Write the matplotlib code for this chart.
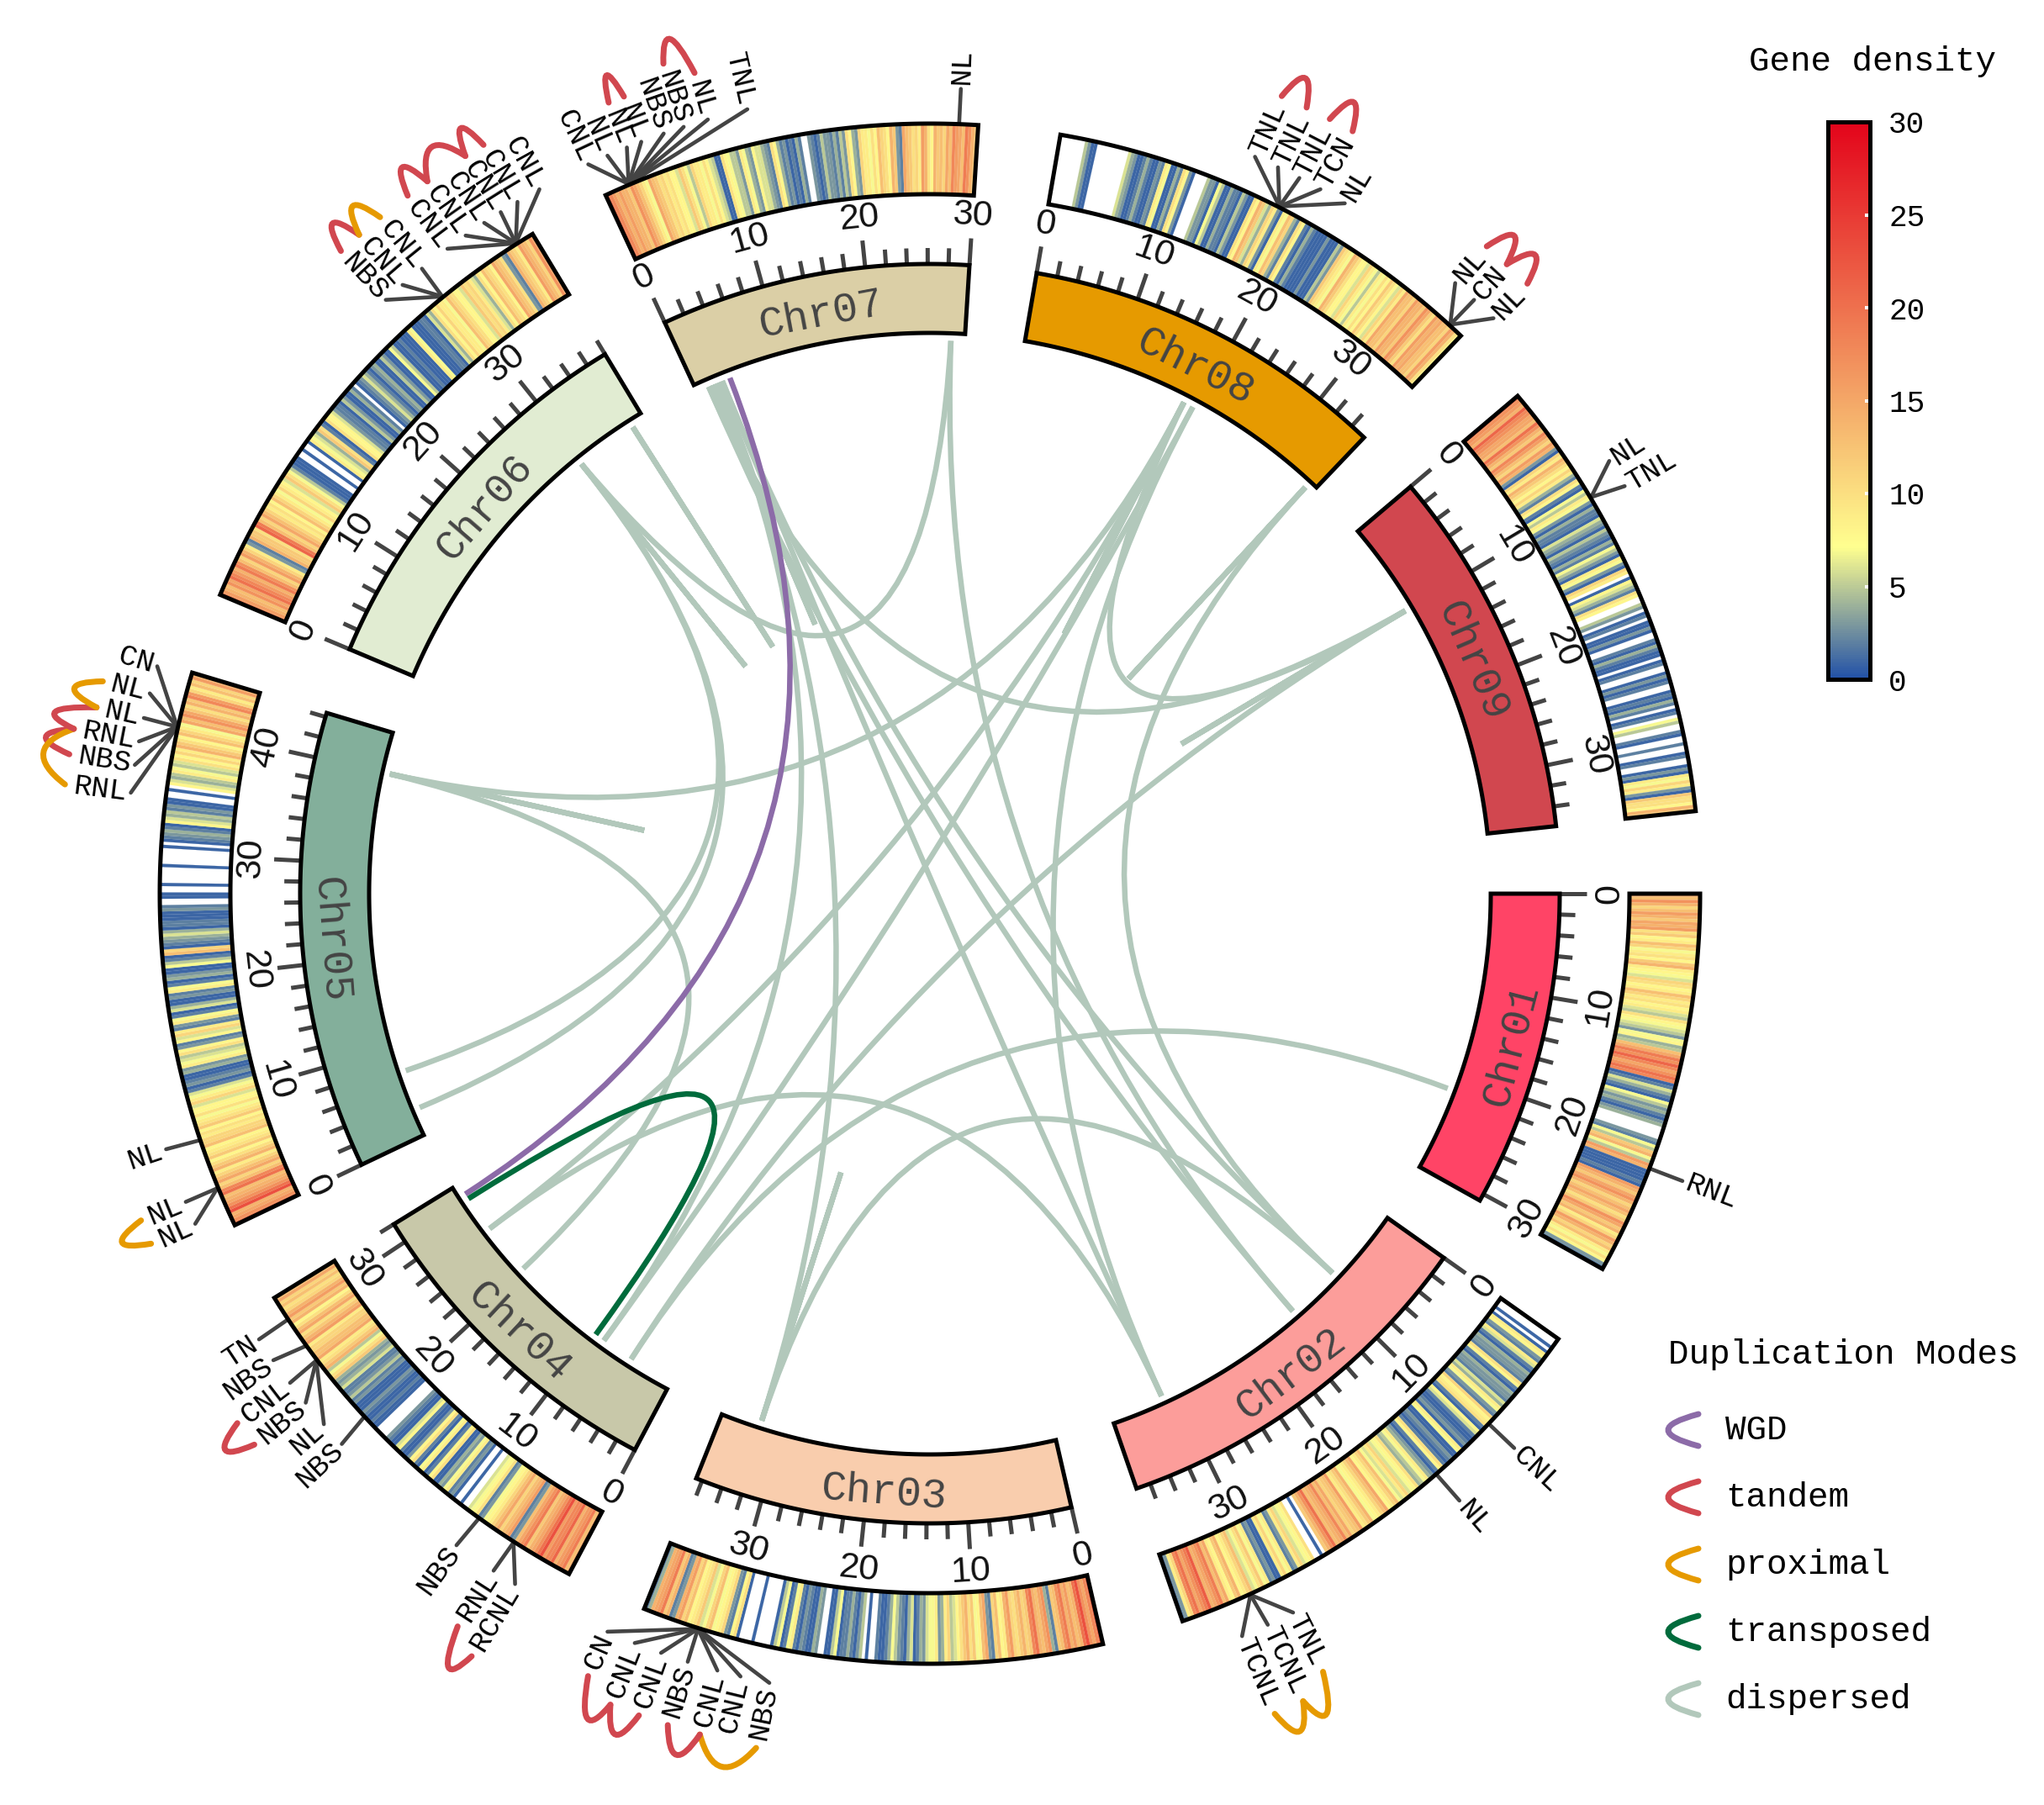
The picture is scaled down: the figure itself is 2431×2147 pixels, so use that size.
import numpy as np
import matplotlib
matplotlib.use("Agg")
import matplotlib.pyplot as plt
from matplotlib.collections import PolyCollection, LineCollection
from matplotlib.colors import LinearSegmentedColormap, Normalize
from matplotlib.patches import Polygon, PathPatch
from matplotlib.path import Path
from matplotlib.colorbar import Colorbar

MONO = "Liberation Mono"
SANS = "Liberation Sans"

# ---------- data ----------
chr_names = ["Chr01", "Chr02", "Chr03", "Chr04", "Chr05", "Chr06", "Chr07", "Chr08", "Chr09"]
chr_lengths = [30.7, 37.4, 36.6, 32.0, 44.4, 38.0, 30.0, 35.6, 35.9]
chr_colors = ["#FF4466", "#FC9D9A", "#F9CDAD", "#C8C8A9", "#83AF9B",
              "#E1ECD2", "#DBCFA6", "#E69A00", "#D1474F"]

density_chr01 = [15,13,17,14,11,13,16,14,12,15,14,16,
 10,12,8,9,13,11,7,9,10,8,12,14,9,8,7,6,11,10,8,9,13,11,9,10,
 8,9,6,5,10,8,7,6, 5,3,7,8,4,5, 13,15,19,17,21,18,15,17,20,18,
 1,2,6,4,2,1,7,5,3,4,2,1,3,4, 0,0,0,0, 3,2,7,5, 12,14,7,5,16,14, 1,1,1,1,2,1,
 16,14,12,15,17,14,11,13,15,13,10,12,17,15,12,14,9,11,16,14,11,13, 9,7,10,8,3,2]
density_chr02 = [0,0,0,1,0,1,9,8, 3,2,9,6,2,1,4,3,3,2,10,8,2,1,4,3,3,2,6,4,
 9,7,3,2,11,8,9,10,2,1,8,6, 2,1,1,2,3,1,9,7,1,1,3,2,1,2,10,8,2,1,3,4,
 9,7,5,4,10,8,7,6,11,9,6,7, 13,11,9,8,15,13,11,9,8,7,14,12,10,9,16,13,12,11,15,13,
 18,15,14,13,20,17,14,12, 0,1,0,0, 10,8,7,6,11,9,3,2,9,7,11,9, 1,1,3,2,
 9,7,12,10,7,6,13,11,9,8,14,12,8,9,15,13, 19,17,15,14,22,19,17,15,20,18, 11,9,3,2]
density_chr03 = [21,18,15,17,23,20,14,13, 16,14,19,17,13,12,2,4,17,15,13,14,20,18,12,11,
 14,12,10,11,16,14,9,8,13,11,2,3,15,13,8,7,12,10,14,12, 10,8,6,5,11,9,4,3,9,7,7,6,
 3,4,2,1,6,4,1,2,3,5,7,4,2,1,1,2, 0,0,1,0,
 5,3,1,2,4,2,2,1,7,5,1,1,0,0,3,4,1,1,2,3, 1,2,9,7,2,1,7,5,1,0,0,0, 0,0,1,0,0,0,0,1,
 10,8,2,3,11,9,8,7,13,11,7,6,12,10,9,8, 13,11,16,14,3,2,14,12,19,16,15,14,4,2]
density_chr04 = [15,13,19,17,16,14,21,18,18,16,23,20, 17,15,14,12,19,17,15,13,3,2,16,14,13,11,15,13,
 11,9,8,7,3,2,10,8,7,6, 0,0,1,0,0,1, 3,2,9,7,3,4,1,1,10,8,2,1,
 9,7,1,2,10,8,3,1,1,2,8,6,1,1,2,3, 0,0,0,0, 1,1,2,1,1,2,3,1,1,1,3,2, 5,3,2,2,6,4,3,4,
 12,10,7,5,14,12,10,9,15,13,13,11,11,9,16,14,12,10,15,13,10,8,14,12,16,14,11,10,13,11,15,13]
density_chr05 = [19,17,15,14,23,20,17,15,14,13,20,18,
 13,11,15,13,11,9,14,12,10,8,12,10,9,8,13,11,11,9,10,8,12,10,9,7,
 10,8,8,6,11,9,7,6, 2,1,3,2,1,1,4,3, 9,7,6,5,10,8,3,2,8,6,11,9,2,3,9,7,
 2,1,6,4,1,1,3,2,9,7,2,1,4,3,1,1,7,5,2,1,13,11,1,2,3,4,6,4,1,2,2,1,1,1,3,2,0,0,1,1,
 0,0,1,0,0,0,0,0,1,0,0,0,0,0,1,0, 1,2,3,4,2,1,8,6,4,5,2,3, 1,1,0,0,1,0,
 8,6,4,5,9,7,5,6,10,8, 11,9,14,12,10,8,13,11,9,7,15,13,17,15,12,10,14,12,18,16,11,9,13,11,16,14]
density_chr06 = [18,16,14,13,17,15,20,18,16,14,19,17,
 13,11,16,14,11,9,3,2,14,12,12,10,21,19,13,11,15,13,11,9, 10,8,13,11,9,7,11,9,8,6,12,10,
 7,5,2,1, 1,1,0,0,1,0,0,1, 9,7,6,4,12,10,2,1,10,8,8,6,
 3,2,2,1,5,3,1,1,4,2,0,1,2,3,6,4,2,1,3,4,1,1,5,3, 1,1,7,5,1,1,2,1,1,1,9,7,1,1,1,2,2,1,6,4,
 10,8,11,9,9,7,13,11,10,8,8,6,12,10,11,9,6,4,10,8, 13,11,10,8,15,13,12,10,3,2,14,12,11,9,16,14,13,11,17,15]
density_chr07 = [20,18,16,14, 16,14,14,12,17,15,13,11,9,7,15,13,12,10,11,9,
 10,8,8,6,12,10,7,5,11,9,9,7,10,8,6,5, 1,1,10,8, 7,5,5,3,9,7,4,3,8,6,6,4,3,2,10,8,
 4,2,3,1,2,1,4,2,0,0,3,2,1,2,5,3,3,2,4,2, 5,3,10,8,4,3,11,9,9,7,10,8,
 13,11,10,8,14,12,3,2,15,13,12,10,11,9,16,14,10,8,14,12,13,11,15,13, 18,16,15,13,19,17,14,12]
density_chr08 = [0,0,0,0,0,0,0,0, 5,3,1,1, 0,0,0,0,0,0,0,0,0,0,
 6,4,3,1,1,2,4,2,1,1,3,2,9,7,1,1,4,2, 10,8,3,1, 0,0,0,0,
 5,3,3,1,7,5,1,1,4,2,2,1,5,3,1,1, 10,8,14,12,6,4,11,9,3,1,9,7,13,11,4,2,10,8,2,1,
 4,2,1,1,1,1,3,1,1,1,5,3, 12,10,9,7,14,12,10,8,8,6,11,9,7,5,9,7,10,8,12,10,8,6,11,9,
 15,13,13,11,16,14,14,12,17,15,12,10,16,14,15,13,13,11,16,14,10,8]
density_chr09 = [19,17,16,14,21,18,17,15,15,13,20,17,14,12,18,16, 13,11,16,14,3,1,11,9,14,12,10,8,
 11,9,4,2,10,8,2,1,7,5,9,7, 3,1,4,2,2,1,6,4,3,1,5,3,2,1,4,2,7,5,3,1,
 9,7,3,1,11,9,0,1,8,6,4,2,10,8,0,0, 5,3,0,1,2,0,1,1,3,1,0,0,2,1,4,2,1,1,0,1,
 2,0,0,1,3,1,2,0,0,1,2,1,4,2,0,1,2,0,7,5,0,0,2,1, 0,0,2,0,0,1,2,0,0,1,3,1,
 9,7,11,9,3,1,12,10,10,8,14,12]
densities = [density_chr01, density_chr02, density_chr03, density_chr04, density_chr05,
             density_chr06, density_chr07, density_chr08, density_chr09]

# gene labels per chromosome: name, position (Mb)
gene_names = [
    ["RNL"],
    ["CNL", "NL", "TNL", "TCNL", "TCNL"],
    ["NBS", "CNL", "CNL", "NBS", "CNL", "CNL", "CN"],
    ["RCNL", "RNL", "NBS", "NBS", "NL", "NBS", "CNL", "NBS", "TN"],
    ["NL", "NL", "NL", "RNL", "NBS", "RNL", "NL", "NL", "CN"],
    ["NBS", "CNL", "CNL", "CNL", "CNL", "CNL", "CNL", "CNL", "CNL"],
    ["CNL", "NL", "NL", "NL", "NBS", "NBS", "NL", "TNL", "NL"],
    ["TNL", "TNL", "TNL", "TCN", "NL", "NL", "CN", "NL"],
    ["NL", "TNL"],
]
gene_mb = [
    [22.0],
    [8.6, 14.3, 31.7, 31.7, 31.7],
    [32.1, 32.1, 32.1, 32.1, 32.1, 32.1, 32.1],
    [5.0, 5.0, 8.3, 20.3, 26.1, 26.1, 26.1, 27.5, 30.0],
    [3.2, 3.2, 7.2, 40.0, 40.0, 40.0, 40.0, 40.0, 40.0],
    [29.4, 29.4, 29.4, 36.5, 36.5, 36.5, 36.5, 36.5, 36.5],
    [2.0, 2.0, 2.0, 2.0, 2.0, 2.0, 2.0, 2.0, 28.5],
    [18.1, 18.1, 18.1, 18.1, 18.1, 34.4, 34.4, 34.4],
    [9.8, 9.8],
]
# layout: angle of each label (deg clockwise from east)
label_theta = [
    [20.9],
    [43.5, 48.9, 63.2, 65.2, 67.2],
    [101.5, 103.6, 105.3, 107.5, 109.5, 111.5, 113.6],
    [121.0, 122.8, 126.0, 136.9, 138.8, 140.8, 142.6, 144.6, 146.4],
    [155.8, 157.5, 161.5, 187.2, 189.2, 190.9, 192.6, 194.4, 196.4],
    [227.5, 229.1, 230.9, 233.2, 234.8, 236.4, 237.8, 239.2, 241.0],
    [244.9, 246.4, 247.9, 249.0, 250.7, 252.2, 254.0, 256.9, 272.2],
    [293.8, 295.6, 297.3, 299.0, 301.0, 310.7, 312.5, 314.4],
    [327.5, 329.6],
]
# small arcs joining labels: chromosome index, label a, label b, mode
gene_arcs = [
    (1, 2, 3, "proximal"), (1, 3, 4, "proximal"),
    (2, 0, 2, "proximal"), (2, 2, 3, "tandem"), (2, 4, 5, "tandem"), (2, 5, 6, "tandem"),
    (3, 0, 1, "tandem"), (3, 5, 6, "tandem"),
    (4, 0, 1, "proximal"), (4, 4, 5, "tandem"), (4, 3, 5, "proximal"),
    (4, 5, 6, "tandem"), (4, 6, 7, "proximal"),
    (5, 0, 1, "tandem"), (5, 1, 2, "proximal"), (5, 3, 4, "tandem"), (5, 4, 6, "tandem"), (5, 6, 7, "tandem"),
    (6, 2, 3, "tandem"), (6, 5, 6, "tandem"),
    (7, 0, 1, "tandem"), (7, 2, 3, "tandem"), (7, 5, 6, "tandem"), (7, 6, 7, "tandem"),
]
# syntenic links: chrA, Mb, chrB, Mb (chromosome index from 0)
dispersed_links = [
    (6, 28.5, 5, 29.6), (6, 28.5, 1, 14.4), (6, 1.4, 8, 10.0), (6, 2.5, 3, 8.6),
    (6, 2.5, 2, 32.3), (6, 3.0, 1, 8.4), (6, 3.0, 1, 31.5), (6, 1.4, 1, 14.4),
    (5, 29.6, 4, 7.2), (5, 29.6, 4, 2.9), (4, 40.0, 3, 20.4), (4, 40.0, 7, 18.5),
    (7, 18.5, 8, 10.0), (7, 19.6, 1, 31.5), (7, 18.5, 3, 26.1), (7, 19.6, 3, 8.6),
    (7, 34.7, 1, 8.4), (8, 10.0, 3, 5.0), (0, 21.7, 3, 5.0), (1, 8.4, 2, 32.3),
    (3, 26.1, 1, 31.5),
    (5, 29.6, 5, 29.6), (5, 36.5, 5, 36.5), (6, 1.9, 6, 1.9), (4, 40.0, 4, 40.0),
    (7, 18.5, 7, 18.5), (7, 34.7, 7, 34.7), (8, 10.0, 8, 10.0), (2, 32.3, 2, 32.3),
]
wgd_links = [(6, 3.9, 3, 30.7)]
transposed_links = [(3, 30.1, 3, 9.7)]

legend_modes = ["WGD", "tandem", "proximal", "transposed", "dispersed"]
mode_colors = {"WGD": "#8C6BA8", "tandem": "#D1474F", "proximal": "#E69A00",
               "transposed": "#006B3C", "dispersed": "#B2C8BB"}
cbar_ticks = [0, 5, 10, 15, 20, 25, 30]

# ---------- layout ----------
W, H = 2431, 2147
CX, CY = 1106.0, 1063.0
DEG_PER_MB = 0.95
GAP = (360 - DEG_PER_MB * sum(chr_lengths)) / len(chr_lengths)
R_BLOCK = (667, 749)
R_TRACK = (832, 916)
R_TICK = (749, 768, 781)
R_TICKLABEL = 808
R_LINK = 658
R_CONN = (917, 958)
R_TEXT = 963
CHAR = 21.3
PX = 0.72  # points per pixel at dpi=100

starts = []
t = 0.0
for L in chr_lengths:
    starts.append(t)
    t += L * DEG_PER_MB + GAP


def theta(c, mb):
    return starts[c] + mb * DEG_PER_MB


def xy(th, r):
    a = np.deg2rad(th)
    return np.array([CX + r * np.cos(a), CY + r * np.sin(a)])


def sector_poly(t0, t1, r0, r1, n=2):
    ts = np.linspace(t0, t1, n)
    outer = np.column_stack([CX + r1 * np.cos(np.deg2rad(ts)), CY + r1 * np.sin(np.deg2rad(ts))])
    inner = np.column_stack([CX + r0 * np.cos(np.deg2rad(ts[::-1])), CY + r0 * np.sin(np.deg2rad(ts[::-1]))])
    return np.vstack([outer, inner])


def tangent_rot(th):
    th = th % 360
    return 90 - th if th < 180 else 270 - th


fig = plt.figure(figsize=(W / 100, H / 100), dpi=100, facecolor="white")
ax = fig.add_axes([0, 0, 1, 1])
ax.set_xlim(0, W)
ax.set_ylim(H, 0)
ax.axis("off")

cmap = LinearSegmentedColormap.from_list(
    "density", [(0, "#1F4FA8"), (7.2 / 30, "#FFFF8F"), (15 / 30, "#F4A868"), (1, "#E3051B")])
norm = Normalize(0, 30)


# links
def draw_link(link, color, z):
    ca, ma, cb, mb = link
    ta, tb = theta(ca, ma), theta(cb, mb)
    p0, p2 = xy(ta, R_LINK), xy(tb, R_LINK)
    chord = np.linalg.norm(p0 - p2) / (2 * R_LINK)
    d = ((tb - ta + 180) % 360) - 180
    tm = ta + d / 2
    rc = 38 if chord == 0 else max(0.0, 100 * (1 - chord / 0.6))
    p1 = xy(tm, rc)
    path = Path([p0, p1, p2], [Path.MOVETO, Path.CURVE3, Path.CURVE3])
    ax.add_patch(PathPatch(path, fc="none", ec=color, lw=6.5 * PX, capstyle="butt", zorder=z))


for lk in dispersed_links:
    draw_link(lk, mode_colors["dispersed"], 1)
for lk in wgd_links:
    draw_link(lk, mode_colors["WGD"], 2)
for lk in transposed_links:
    draw_link(lk, mode_colors["transposed"], 2)

# sectors
for c, name in enumerate(chr_names):
    L = chr_lengths[c]
    t0, t1 = theta(c, 0), theta(c, L)
    # name block
    ax.add_patch(Polygon(sector_poly(t0, t1, *R_BLOCK, n=80), closed=True, fc=chr_colors[c],
                         ec="black", lw=5 * PX, joinstyle="miter", zorder=4))
    tm = (t0 + t1) / 2
    px, py = xy(tm, 708)
    rot = tangent_rot(tm)
    px += 7 * np.sin(np.deg2rad(rot))
    py += 7 * np.cos(np.deg2rad(rot))
    ax.text(px, py, name, family=MONO, fontsize=36, color="#444444", ha="center", va="center",
            rotation=rot, rotation_mode="anchor", zorder=5)
    # ticks
    segs = []
    for mb in np.arange(0, L + 0.01, 2):
        th = theta(c, mb)
        major = int(round(mb)) % 10 == 0
        segs.append([xy(th, R_TICK[0]), xy(th, R_TICK[2] if major else R_TICK[1])])
        if major:
            px, py = xy(th, R_TICKLABEL)
            ax.text(px, py, str(int(mb)), family=SANS, fontsize=31, color="#111111", ha="center",
                    va="center", rotation=tangent_rot(th), rotation_mode="anchor", zorder=5)
    ax.add_collection(LineCollection(segs, colors="#444444", linewidths=5 * PX, zorder=3))
    # density track
    vals = np.array(densities[c], dtype=float)
    edges = np.linspace(t0, t1, len(vals) + 1)
    keep = vals > 0
    polys = [sector_poly(edges[i], edges[i + 1], *R_TRACK) for i in np.nonzero(keep)[0]]
    pc = PolyCollection(polys, array=vals[keep], cmap=cmap, norm=norm, edgecolors="face",
                        linewidths=0.1, zorder=3)
    ax.add_collection(pc)
    ax.add_patch(Polygon(sector_poly(t0, t1, *R_TRACK, n=80), closed=True, fc="none",
                         ec="black", lw=5 * PX, joinstyle="miter", zorder=4))
    # gene labels
    for name_g, mb, lth in zip(gene_names[c], gene_mb[c], label_theta[c]):
        th = theta(c, mb)
        a, b = xy(th, R_CONN[0]), xy(lth, R_CONN[1])
        ax.plot([a[0], b[0]], [a[1], b[1]], color="#444444", lw=4.6 * PX, zorder=3,
                solid_capstyle="round")
        px, py = xy(lth, R_TEXT)
        right = (lth % 360) > 270 or (lth % 360) < 90
        ax.text(px, py, name_g, family=MONO, fontsize=25.5, color="black",
                rotation=-lth if right else 180 - lth, rotation_mode="anchor",
                ha="left" if right else "right", va="center", zorder=5)

# arcs between labels
for c, i, j, mode in gene_arcs:
    ti, tj = label_theta[c][i], label_theta[c][j]
    ri = R_TEXT + len(gene_names[c][i]) * CHAR + 10
    rj = R_TEXT + len(gene_names[c][j]) * CHAR + 10
    p0, p2 = xy(ti, ri), xy(tj, rj)
    p1 = xy((ti + tj) / 2, max(ri, rj) + 62)
    path = Path([p0, p1, p2], [Path.MOVETO, Path.CURVE3, Path.CURVE3])
    ax.add_patch(PathPatch(path, fc="none", ec=mode_colors[mode], lw=7 * PX, capstyle="round", zorder=5))

# legend
ax.text(1984, 1611, "Duplication Modes", family=MONO, fontsize=29.4, color="black", ha="left", va="center")
for k, mode in enumerate(legend_modes):
    y = 1701 + k * 80
    path = Path([(2020, y - 19), (1948, y), (2020, y + 19)], [Path.MOVETO, Path.CURVE3, Path.CURVE3])
    ax.add_patch(PathPatch(path, fc="none", ec=mode_colors[mode], lw=7 * PX, capstyle="round"))
    ax.text(2052, y, mode, family=MONO, fontsize=29.4, color="black", ha="left", va="center")

# colour bar
ax.text(2227, 73, "Gene density", family=MONO, fontsize=29.4, color="black", ha="center", va="center")
cax = fig.add_axes([2174 / W, 1 - 808 / H, 50 / W, 663 / H])
cb = Colorbar(cax, cmap=cmap, norm=norm, ticks=cbar_ticks, orientation="vertical")
cb.outline.set_edgecolor("black")
cb.outline.set_linewidth(5 * PX)
cb.solids.set_edgecolor("face")
cax.tick_params(axis="y", direction="in", length=4, width=4 * PX, color="white", pad=16)
for lab in cax.get_yticklabels():
    lab.set_fontfamily(MONO)
    lab.set_fontsize(26)

fig.savefig("out.png", dpi=100, facecolor="white")
